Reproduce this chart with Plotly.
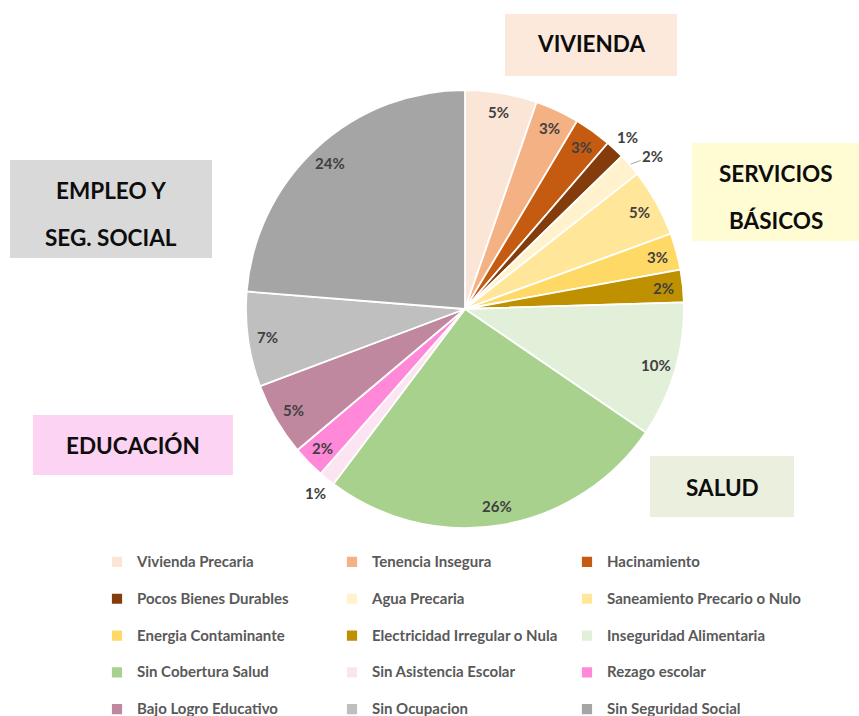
import math
import plotly.graph_objects as go

labels = ["Vivienda Precaria", "Tenencia Insegura", "Hacinamiento",
          "Pocos Bienes Durables", "Agua Precaria", "Saneamiento Precario o Nulo",
          "Energia Contaminante", "Electricidad Irregular o Nula", "Inseguridad Alimentaria",
          "Sin Cobertura Salud", "Sin Asistencia Escolar", "Rezago escolar",
          "Bajo Logro Educativo", "Sin Ocupacion", "Sin Seguridad Social"]
values = [5.3, 3.25, 2.75, 1.4, 1.7, 5.0, 2.7, 2.4, 10.0, 25.7, 1.2, 2.4, 5.4, 7.0, 23.7]
colors = ["#FBE5D6", "#F4B183", "#C55A11", "#843C0C", "#FFF2CC", "#FFE699",
          "#FFD966", "#BF9000", "#E2F0D9", "#A9D18E", "#FCE4F2", "#FF88D8",
          "#C0889E", "#BFBFBF", "#A5A5A5"]
# label placement: "in" = inside end, "out" = outside, "lead" = outside with leader line
label_mode = ["in", "in", "in", "out", "lead", "in", "in", "in", "in", "in",
              "out", "in", "in", "in", "in"]

group_lines = [["VIVIENDA"], ["SERVICIOS", "BÁSICOS"], ["EMPLEO Y", "SEG. SOCIAL"],
               ["EDUCACIÓN"], ["SALUD"]]
group_colors = ["#FDE9DB", "#FFFBD3", "#D9D9D9", "#FCD3F2", "#EBEFDD"]

W, H = 859, 716
FONT = "Lato"

# pie geometry (pixels)
CX, CY, R = 465, 309, 219

# legend entries: taller rows via an empty second line
legend_names = ["<span style='font-size:15px'>%s</span><br> " % l for l in labels]

fig = go.Figure()
fig.add_trace(go.Pie(
    labels=legend_names,
    values=values,
    customdata=labels,
    sort=False,
    direction="clockwise",
    rotation=0,
    marker=dict(colors=colors, line=dict(color="white", width=1.8)),
    textinfo="none",
    domain=dict(x=[(CX - R) / W, (CX + R) / W], y=[1 - (CY + R) / H, 1 - (CY - R) / H]),
    hovertemplate="%{customdata}: %{percent}<extra></extra>",
))

# percentage labels derived from the values
total = sum(values)
cum = 0.0
for v, mode in zip(values, label_mode):
    mid = (cum + v / 2) / total * 2 * math.pi
    cum += v
    txt = "%d%%" % round(100 * v / total)
    r = 0.91 * R if mode == "in" else 1.08 * R
    if mode == "lead":
        tx = CX + 1.005 * R * math.sin(mid)
        ty = CY - 1.005 * R * math.cos(mid)
        fig.add_annotation(x=tx / W, y=1 - ty / H, xref="paper", yref="paper",
                           text=txt, showarrow=True, arrowhead=0, arrowwidth=1,
                           arrowcolor="#A6A6A6", ax=22, ay=-8,
                           font=dict(family=FONT, size=15, color="#404040", weight="bold"))
    else:
        px = CX + r * math.sin(mid)
        py = CY - r * math.cos(mid)
        fig.add_annotation(x=px / W, y=1 - py / H, xref="paper", yref="paper",
                           text=txt, showarrow=False, xanchor="center", yanchor="middle",
                           font=dict(family=FONT, size=15, color="#404040", weight="bold"))

# category boxes (pixel positions)
boxes = [
    (505, 14, 677, 76),
    (692, 143, 859, 241),
    (10, 160, 212, 258),
    (33, 415, 233, 475),
    (650, 456, 794, 517),
]
line_y = [[44], [173, 220], [190, 237], [445], [487]]
for (x0, y0, x1, y1), lines, ys, col in zip(boxes, group_lines, line_y, group_colors):
    fig.add_shape(type="rect", xref="paper", yref="paper",
                  x0=x0 / W, x1=x1 / W, y0=1 - y1 / H, y1=1 - y0 / H,
                  fillcolor=col, line=dict(width=0), layer="below")
    for txt, yy in zip(lines, ys):
        fig.add_annotation(x=(x0 + x1) / 2 / W, y=1 - yy / H,
                           xref="paper", yref="paper", text=txt, showarrow=False,
                           xanchor="center", yanchor="middle",
                           font=dict(family=FONT, size=22.5, color="#0D0D0D", weight="bold"))

fig.update_layout(
    width=W, height=H,
    margin=dict(l=0, r=0, t=0, b=0, autoexpand=False),
    paper_bgcolor="white", plot_bgcolor="white",
    showlegend=True,
    legend=dict(orientation="h", x=97 / W, y=1 - 547 / H, xanchor="left", yanchor="top",
                entrywidth=190, entrywidthmode="pixels", valign="top",
                font=dict(family=FONT, size=13, color="#595959", weight="bold"),
                bgcolor="rgba(0,0,0,0)"),
)

fig.write_html("out.html", config={"displayModeBar": False},
               post_script="document.body.style.margin='0';")
